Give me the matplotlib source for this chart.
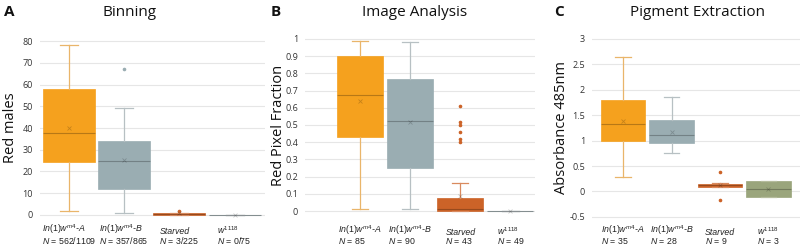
import matplotlib
matplotlib.use("Agg")
import matplotlib.pyplot as plt
from matplotlib.offsetbox import TextArea, VPacker, AnnotationBbox
from matplotlib.transforms import blended_transform_factory

plt.rcParams['mathtext.fontset'] = 'custom'
plt.rcParams['mathtext.it'] = 'Liberation Sans:italic'
plt.rcParams['mathtext.rm'] = 'Liberation Sans'

# ---- data ----
groups = [r"$\mathit{In(1)w}^{\mathit{m4}}$-A", r"$\mathit{In(1)w}^{\mathit{m4}}$-B",
          "Starved", r"$\mathit{w}^{\mathit{1118}}$"]

bin_n = ["562/1109", "357/865", "3/225", "0/75"]
bin_lo = [2, 1, 0, 0]
bin_q1 = [24.5, 12, 0.2, 0]
bin_med = [37.5, 25, 0.5, 0]
bin_q3 = [58, 34, 1.0, 0.1]
bin_hi = [78, 49, 1.0, 0.1]
bin_mean = [40, 25.5, 0.8, 0]
bin_fliers = [[], [67], [2], []]

img_n = ["85", "90", "43", "49"]
img_lo = [0.01, 0.01, 0, 0]
img_q1 = [0.43, 0.25, 0.0, 0]
img_med = [0.675, 0.525, 0.01, 0]
img_q3 = [0.90, 0.765, 0.075, 0.002]
img_hi = [0.99, 0.98, 0.16, 0.002]
img_mean = [0.64, 0.52, 0.085, 0]
img_fliers = [[], [], [0.40, 0.42, 0.46, 0.50, 0.52, 0.61], []]

pig_n = ["35", "28", "9", "3"]
pig_lo = [0.28, 0.75, 0.08, -0.1]
pig_q1 = [1.0, 0.95, 0.09, -0.1]
pig_med = [1.33, 1.12, 0.12, 0.05]
pig_q3 = [1.8, 1.4, 0.15, 0.2]
pig_hi = [2.65, 1.85, 0.16, 0.2]
pig_mean = [1.38, 1.17, 0.12, 0.05]
pig_fliers = [[], [], [0.38, -0.17], []]

orange = '#F5A11E'
grey = '#9AADB2'
rust = '#CC6328'
olive = '#9AA57C'
colors_ab = [orange, grey, rust, grey]
colors_c = [orange, grey, rust, olive]
whisk_ab = ['#E9B56A', '#B7C0C3', '#D98A5E', '#B7C0C3']
whisk_c = ['#E9B56A', '#B7C0C3', '#D98A5E', '#B5BC9C']

W, H = 800, 247
fig = plt.figure(figsize=(8, 2.47), dpi=100)


def px_axes(x0, x1, y_top, y_bot):
    return fig.add_axes([x0 / W, 1 - y_bot / H, (x1 - x0) / W, (y_bot - y_top) / H])


def panel(ax, lo, q1, med, q3, hi, mean, fliers, ns, colors, wcols,
          width, ylim, yticks, yticklabels, xlim):
    for i in range(len(groups)):
        st = dict(whislo=lo[i], q1=q1[i], med=med[i], q3=q3[i],
                  whishi=hi[i], mean=mean[i], fliers=fliers[i])
        ax.bxp([st], positions=[i], widths=width, patch_artist=True,
               showmeans=True, capwidths=width * 0.35,
               boxprops=dict(facecolor=colors[i], edgecolor=colors[i], linewidth=0.5),
               medianprops=dict(color='#00000040', linewidth=0.8),
               whiskerprops=dict(color=wcols[i], linewidth=0.9),
               capprops=dict(color=wcols[i], linewidth=0.9),
               meanprops=dict(marker='x', markersize=3, markeredgewidth=0.6,
                              markeredgecolor='#00000030'),
               flierprops=dict(marker='o', markersize=1.6, markerfacecolor=colors[i],
                               markeredgecolor=colors[i]))
    ax.set_ylim(*ylim)
    ax.set_xlim(*xlim)
    ax.set_yticks(yticks)
    ax.set_yticklabels(yticklabels, fontsize=6.5, color='#333333', family='Open Sans')
    ax.set_xticks([])
    ax.grid(axis='y', color='#E6E6E6', linewidth=0.8)
    ax.set_axisbelow(True)
    ax.tick_params(axis='y', length=0, pad=5)
    for s in ax.spines.values():
        s.set_visible(False)
    trans = blended_transform_factory(ax.transData, fig.transFigure)
    for i, (g, n) in enumerate(zip(groups, ns)):
        props = dict(fontsize=6.3, family='Liberation Sans', color='#222222')
        top = TextArea(g, textprops=dict(fontstyle='italic', **props))
        bot = TextArea(r"$\mathit{N}$ = " + n, textprops=props)
        pack = VPacker(children=[top, bot], align='left', pad=0, sep=-1)
        ab = AnnotationBbox(pack, (i, 1.5 / H), xycoords=trans,
                            box_alignment=(0.5, 0), frameon=False, pad=0,
                            annotation_clip=False)
        ax.add_artist(ab)


def place_ylabel(ax, text, x_px, x0, x1):
    ax.set_ylabel(text, fontsize=10.5, family='Open Sans', color='#111111')
    ax.yaxis.set_label_coords((x_px - x0) / (x1 - x0), 0.5)


axA = px_axes(40, 265, 34.5, 221.5)
panel(axA, bin_lo, bin_q1, bin_med, bin_q3, bin_hi, bin_mean, bin_fliers, bin_n,
      colors_ab, whisk_ab, 0.94, (-3, 83), range(0, 81, 10),
      [str(v) for v in range(0, 81, 10)], (-0.52, 3.55))
place_ylabel(axA, "Red males", 18, 40, 265)

axB = px_axes(305, 535, 32.1, 217.9)
ticks_b = [i / 10 for i in range(11)]
panel(axB, img_lo, img_q1, img_med, img_q3, img_hi, img_mean, img_fliers, img_n,
      colors_ab, whisk_ab, 0.92, (-0.04, 1.04), ticks_b,
      ['0'] + ['%.1f' % v for v in ticks_b[1:-1]] + ['1'], (-1.1, 3.49))
place_ylabel(axB, "Red Pixel Fraction", 286, 305, 535)

axC = px_axes(592, 800, 33.9, 222)
ticks_c = [-0.5, 0, 0.5, 1, 1.5, 2, 2.5, 3]
panel(axC, pig_lo, pig_q1, pig_med, pig_q3, pig_hi, pig_mean, pig_fliers, pig_n,
      colors_c, whisk_c, 0.91, (-0.6, 3.1), ticks_c,
      ['-0.5', '0', '0.5', '1', '1.5', '2', '2.5', '3'], (-0.64, 3.65))
place_ylabel(axC, "Absorbance 485nm", 569, 592, 800)

for x, title in [(130, "Binning"), (415, "Image Analysis"), (697, "Pigment Extraction")]:
    fig.text(x / W, 1 - 12 / H, title, ha='center', va='center', fontsize=11,
             family='Open Sans', color='#111111')
for x, letter in [(4, "A"), (271, "B"), (554, "C")]:
    fig.text(x / W, 1 - 12 / H, letter, ha='left', va='center', fontsize=11,
             family='Open Sans', fontweight='bold', color='#111111')

fig.savefig("out.png", dpi=100)
